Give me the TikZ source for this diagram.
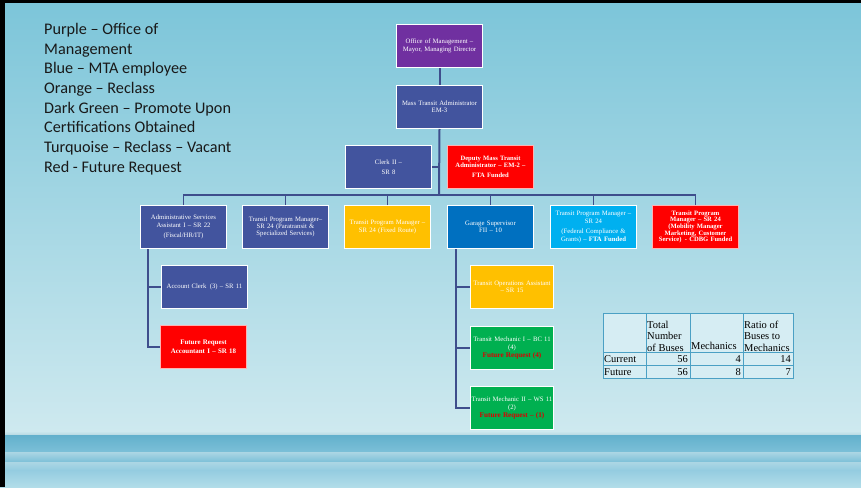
\documentclass[tikz,border=0pt]{standalone}
\usepackage{fontspec}
\setmainfont{Liberation Serif}
\newfontfamily\legendfont[Ligatures=TeX]{Carlito}
\usetikzlibrary{calc}

\definecolor{omPurple}{RGB}{112,48,160}
\definecolor{mtaBlue}{RGB}{66,84,158}
\definecolor{recOrange}{RGB}{255,192,0}
\definecolor{garBlue}{RGB}{0,112,192}
\definecolor{turq}{RGB}{0,176,240}
\definecolor{reqRed}{RGB}{255,0,0}
\definecolor{certGreen}{RGB}{0,176,80}
\definecolor{reqText}{RGB}{220,0,0}
\definecolor{lineNavy}{RGB}{62,78,140}
\definecolor{skyTop}{RGB}{124,197,217}
\definecolor{skyLow}{RGB}{206,233,239}
\definecolor{horizon}{RGB}{182,216,226}
\definecolor{seaDeep}{RGB}{98,176,204}
\definecolor{seaMid}{RGB}{124,192,216}
\definecolor{seaStreak}{RGB}{172,214,228}
\definecolor{seaLow}{RGB}{148,204,224}
\definecolor{seaFoot}{RGB}{178,221,233}
\definecolor{tabLine}{RGB}{75,160,196}
\definecolor{tabFill}{RGB}{214,237,243}
\definecolor{legendInk}{RGB}{25,25,25}

\tikzset{
  orgbox/.style={rectangle, draw=white, line width=1pt, anchor=north west,
    minimum width=86pt, minimum height=43pt, inner sep=1pt, text width=84pt,
    align=center, text=white, font=\fontsize{6.7}{7.4}\selectfont},
  conn/.style={draw=lineNavy, line width=1.3pt},
  trunk/.style={draw=lineNavy, line width=2pt},
  cell/.style={inner sep=0pt, font=\fontsize{10.5}{11.5}\selectfont, text=black},
}

\begin{document}
\begin{tikzpicture}[x=1pt,y=-1pt]
\useasboundingbox (0,0) rectangle (861,487);

% sky and sea
\shade[top color=skyTop, bottom color=skyLow] (0,0) rectangle (861,431);
\shade[top color=skyLow, bottom color=horizon] (0,431) rectangle (861,435);
\shade[top color=seaDeep, bottom color=seaMid] (0,435) rectangle (861,452);
\shade[top color=seaStreak, bottom color=seaMid] (0,452) rectangle (861,462);
\shade[top color=seaStreak, bottom color=seaLow] (0,462) rectangle (861,470);
\shade[top color=seaLow, bottom color=seaFoot] (0,470) rectangle (861,487);
% slide frame
\fill[black] (0,0) rectangle (5,487);
\fill[black] (0,0) rectangle (861,3);

% legend
\node[anchor=north west, inner sep=0pt, align=left, text=legendInk,
  font=\legendfont\fontsize{16.2}{19.7}\selectfont] (legend) at (44,23)
  {Purple – Office of\\ Management\\ Blue – MTA employee\\ Orange – Reclass\\
   Dark Green – Promote Upon\\ Certifications Obtained\\
   Turquoise – Reclass – Vacant\\ Red - Future Request};

% organisation boxes
\node[orgbox, fill=omPurple] (om) at (396,24) {Office of Management –\\ Mayor, Managing Director};
\node[orgbox, fill=mtaBlue] (mta) at (396,85) {Mass Transit Administrator\\ EM-3};
\node[orgbox, fill=mtaBlue] (clerk) at (345,145) {Clerk II –\\[3pt] SR 8};
\node[orgbox, fill=reqRed, draw=red!30, font=\fontsize{6.6}{7}\selectfont\bfseries] (deputy) at (447,145)
  {Deputy Mass Transit\\ Administrator – EM-2 –\\[3pt] FTA Funded};

\node[orgbox, fill=mtaBlue] (admin) at (140,205) {Administrative Services\\ Assistant I – SR 22\\[3pt] (Fiscal/HR/IT)};
\node[orgbox, fill=mtaBlue] (para) at (242,205) {Transit Program Manager–\\ SR 24 (Paratransit \&\\ Specialized Services)};
\node[orgbox, fill=recOrange] (fixed) at (344,205) {Transit Program Manager –\\ SR 24 (Fixed Route)};
\node[orgbox, fill=garBlue] (garage) at (447,205) {Garage Supervisor\\ FII – 10};
\node[orgbox, fill=turq] (fed) at (550,205) {Transit Program Manager –\\ SR 24\\[3pt] (Federal Compliance \&\\ Grants) – \textbf{FTA Funded}};
\node[orgbox, fill=reqRed, draw=red!30, font=\fontsize{6.6}{6.7}\selectfont\bfseries] (mob) at (652,205)
  {Transit Program\\ Manager – SR 24\\ (Mobility Manager\\ Marketing, Customer\\ Service)\enspace- CDBG Funded};

\node[orgbox, fill=mtaBlue] (acct) at (161,265) {Account Clerk\enspace(3) – SR 11};
\node[orgbox, fill=reqRed, draw=red!30, font=\fontsize{6.9}{9}\selectfont\bfseries] (futacct) at (160,325)
  {Future Request\\ Accountant I – SR 18};

\node[orgbox, fill=recOrange, minimum width=83pt, text width=81pt] (toa) at (470,265) {Transit Operations Assistant\\ – SR 15};
\node[orgbox, fill=certGreen, minimum width=83pt, text width=81pt] (mech1) at (470,326)
  {Transit Mechanic I – BC 11\\ (4)\\[1pt] {\color{reqText}\fontsize{7.2}{8}\selectfont\bfseries Future Request (4)}};
\node[orgbox, fill=certGreen, minimum width=83pt, text width=81pt] (mech2) at (470,386)
  {Transit Mechanic II – WS 11\\ (2)\\[1pt] {\color{reqText}\fontsize{7.2}{8}\selectfont\bfseries Future Request – (1)}};

% reporting lines
\coordinate (busC) at (439,195);
\draw[trunk] (om.south) -- (mta.north);
\draw[trunk] (mta.south) -- (busC);
\draw[conn] (clerk.east) -- (clerk.east -| mta.south);
\draw[conn] (admin.north) |- (busC) -| (mob.north);
\draw[conn] (para.north) -- (para.north |- busC);
\draw[conn] (fixed.north) -- (fixed.north |- busC);
\draw[conn] (garage.north) -- (garage.north |- busC);
\draw[conn] (fed.north) -- (fed.north |- busC);

\coordinate (adminDrop) at ($(admin.south west)+(8,0)$);
\draw[conn] (adminDrop) |- (futacct.west);
\draw[conn] (adminDrop |- acct.west) -- (acct.west);

\coordinate (garDrop) at ($(garage.south west)+(9,0)$);
\draw[conn] (garDrop) |- (mech2.west);
\draw[conn] (garDrop |- toa.west) -- (toa.west);
\draw[conn] (garDrop |- mech1.west) -- (mech1.west);

% buses and mechanics table
\fill[tabFill] (603,313) rectangle (793,378);
\draw[tabLine, line width=0.9pt] (603,313) rectangle (793,378);
\draw[tabLine, line width=0.9pt] (603,352) -- (793,352);
\draw[tabLine, line width=0.9pt] (603,365) -- (793,365);
\draw[tabLine, line width=0.9pt] (646,313) -- (646,378);
\draw[tabLine, line width=0.9pt] (690,313) -- (690,378);
\draw[tabLine, line width=0.9pt] (743,313) -- (743,378);

\node[cell, anchor=south west, align=left] (hBuses) at (647,351.5) {Total\\ Number\\ of Buses};
\node[cell, anchor=base west] (hMech) at (691,349) {Mechanics};
\node[cell, anchor=south west, align=left] (hRatio) at (744,351.5) {Ratio of\\ Buses to\\ Mechanics};
\node[cell, anchor=base west] (rCur) at (604,362) {Current};
\node[cell, anchor=base west] (rFut) at (604,375) {Future};
\node[cell, anchor=base east] (c1) at (688,362) {56};
\node[cell, anchor=base east] (c2) at (741,362) {4};
\node[cell, anchor=base east] (c3) at (791,362) {14};
\node[cell, anchor=base east] (f1) at (688,375) {56};
\node[cell, anchor=base east] (f2) at (741,375) {8};
\node[cell, anchor=base east] (f3) at (791,375) {7};
\end{tikzpicture}
\end{document}
